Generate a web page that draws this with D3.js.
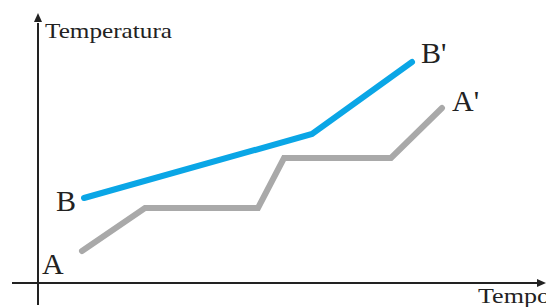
<!DOCTYPE html>
<html><head><meta charset="utf-8">
<script src="https://cdn.jsdelivr.net/npm/d3@7"></script>
<style>html,body{margin:0;padding:0;background:#fff;overflow:hidden}</style>
</head><body>
<svg id="c" width="546" height="307"></svg>
<script>
// Data (arbitrary units: tempo, temperatura)
const seriesA_x = [0.88, 2.14, 4.40, 4.92, 7.06, 8.08];
const seriesA_y = [1.28, 3.00, 3.00, 5.00, 5.00, 7.00];
const seriesB_x = [0.92, 5.48, 7.48];
const seriesB_y = [3.40, 5.96, 8.84];
const axisLabels = ["Temperatura", "Tempo"];
const pointLabels = ["A", "A'", "B", "B'"];

const svg = d3.select("#c");
const x = d3.scaleLinear().domain([0, 10]).range([38, 538]);
const y = d3.scaleLinear().domain([0, 10]).range([283, 33]);

const serif = "'Liberation Serif', 'Times New Roman', serif";
const axisColor = "#222";

// axes
svg.append("line").attr("x1", x(-0.52)).attr("x2", x(10.0)).attr("y1", y(0)).attr("y2", y(0))
  .attr("stroke", axisColor).attr("stroke-width", 2);
svg.append("line").attr("x1", x(0)).attr("x2", x(0)).attr("y1", y(-0.88)).attr("y2", y(10.4))
  .attr("stroke", axisColor).attr("stroke-width", 2);
// arrowheads
const ax = x(0), ay = y(10.8);
svg.append("path").attr("d", `M${ax},${ay} L${ax-4},${ay+9} L${ax+4},${ay+9} Z`).attr("fill", axisColor);
const hx = 546, hy = y(0);
svg.append("path").attr("d", `M${hx},${hy} L${hx-9},${hy-4} L${hx-9},${hy+4} Z`).attr("fill", axisColor);

const line = d3.line().x(d => x(d[0])).y(d => y(d[1]));
const A = seriesA_x.map((v, i) => [v, seriesA_y[i]]);
const B = seriesB_x.map((v, i) => [v, seriesB_y[i]]);

svg.append("path").attr("d", line(A)).attr("fill", "none").attr("stroke", "#a9a9a9")
  .attr("stroke-width", 6).attr("stroke-linecap", "round").attr("stroke-linejoin", "miter");
svg.append("path").attr("d", line(B)).attr("fill", "none").attr("stroke", "#0aa6e6")
  .attr("stroke-width", 6).attr("stroke-linecap", "round").attr("stroke-linejoin", "miter");

// axis labels
svg.append("text").attr("x", x(0) + 7).attr("y", 38).text(axisLabels[0])
  .attr("font-family", serif).attr("font-size", 21).attr("fill", "#222")
  .attr("textLength", 127).attr("lengthAdjust", "spacingAndGlyphs");
svg.append("text").attr("x", 478).attr("y", 303).text(axisLabels[1])
  .attr("font-family", serif).attr("font-size", 21).attr("fill", "#222")
  .attr("textLength", 72).attr("lengthAdjust", "spacingAndGlyphs");

// point labels
const big = 30;
svg.append("text").attr("x", 42).attr("y", 274).text(pointLabels[0])
  .attr("font-family", serif).attr("font-size", big).attr("fill", "#222");
svg.append("text").attr("x", 452).attr("y", 111).text(pointLabels[1])
  .attr("font-family", serif).attr("font-size", big).attr("fill", "#222");
svg.append("text").attr("x", 56).attr("y", 211).text(pointLabels[2])
  .attr("font-family", serif).attr("font-size", big).attr("fill", "#222");
svg.append("text").attr("x", 421).attr("y", 63).text(pointLabels[3])
  .attr("font-family", serif).attr("font-size", big).attr("fill", "#222");
</script>
</body></html>
